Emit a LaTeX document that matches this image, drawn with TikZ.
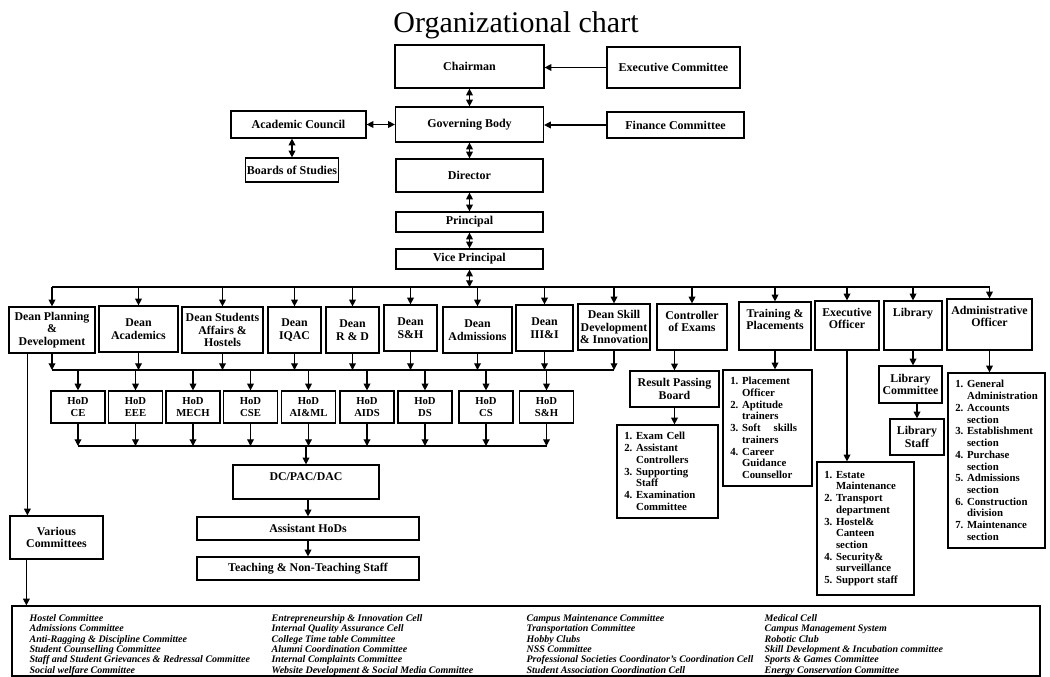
\documentclass[tikz,border=0pt]{standalone}
\usepackage{fontspec}
\setmainfont{Liberation Serif}
\usetikzlibrary{arrows,arrows.meta,positioning,calc}
\newcommand{\titleFnt}{\fontsize{22.5}{26}\selectfont}
\newcommand{\topFnt}{\bfseries\fontsize{9}{9.8}\selectfont}
\newcommand{\deanFnt}{\bfseries\fontsize{8.9}{9.3}\selectfont}
\newcommand{\hodFnt}{\bfseries\fontsize{8}{8.9}\selectfont}
\newcommand{\listFnt}{\bfseries\fontsize{8.1}{8.8}\selectfont}
\newcommand{\commFnt}{\bfseries\itshape\fontsize{7.5}{7.73}\selectfont}
\newcommand{\contLine}{\hphantom{1.~}}
\tikzset{
	box/.style={draw, line width=0.9pt, inner xsep=2pt, inner ysep=1pt, align=center},
	dean/.style={box, font=\deanFnt, minimum height=34.5pt},
	hod/.style={box, font=\hodFnt, minimum width=40.5pt, minimum height=24pt},
	toplabel/.style={anchor=north, yshift=-4.5pt, inner sep=1pt, align=center, font=\deanFnt},
	toptext/.style={label={[toplabel]north:#1}},
	listbox/.style={box, font=\listFnt, align=left, inner xsep=5.5pt, text width=#1},
	comm/.style={anchor=north west, inner sep=0pt, align=left, font=\commFnt}
}

\begin{document}
\begin{tikzpicture}[->,>={Triangle[length=5pt,width=5pt]},line width=0.9pt,
		x=0.75pt,y=-0.75pt]
	\useasboundingbox (0,0) rectangle (1050,677);
	\node[font=\titleFnt, anchor=base] (title) at (516,33) {Organizational chart};
	% governing levels
	\node[box, font=\topFnt, minimum width=111.75pt, minimum height=32.25pt] (chair) at (469.5,66.5) {Chairman};
	\node[box, font=\topFnt, minimum width=99.75pt, minimum height=30.75pt] (exec) at (673.5,67.5) {Executive Committee};
	\node[box, font=\topFnt, minimum width=101.25pt, minimum height=20.25pt] (acad) at (298.5,124.5) {Academic Council};
	\node[box, font=\topFnt, minimum width=111pt, minimum height=26.25pt] (gov) at (469.5,124.5) {Governing Body};
	\node[box, font=\topFnt, minimum width=102.75pt, minimum height=19.5pt] (fin) at (675.5,125) {Finance Committee};
	\node[box, font=\topFnt, inner xsep=1pt, minimum width=69pt, minimum height=18pt] (bos) at (292,170) {Boards of Studies};
	\node[box, font=\topFnt, minimum width=110.25pt, minimum height=24.75pt] (dir) at (469.5,175.5) {Director};
	\node[box, font=\topFnt, minimum width=110.25pt, minimum height=15pt] (prin) at (469.5,222) {Principal};
	\node[box, font=\topFnt, minimum width=110.25pt, minimum height=15pt] (vp) at (469.5,259) {Vice Principal};
	\path (exec.west) edge (exec.west -| chair.east);
	\path (fin.west) edge (fin.west -| gov.east);
	\path[<->] (acad.east) edge (acad.east -| gov.west);
	\path[<->] (bos.north |- acad.south) edge (bos.north);
	\path[<->] (chair) edge (gov);
	\path[<->] (gov) edge (dir);
	\path[<->] (dir) edge (prin);
	\path[<->] (prin) edge (vp);
	% deans and officers
	\node[dean, minimum width=64.5pt] (dplan) at (52,330) {Dean Planning\\\&\\Development};
	\node[dean, minimum width=59.25pt] (dacad) at (138.5,329) {Dean\\Academics};
	\node[dean, minimum width=60.75pt] (dstud) at (222.5,330) {Dean Students\\Affairs \&\\Hostels};
	\node[dean, minimum width=39.75pt] (diqac) at (294.5,330) {Dean\\IQAC};
	\node[dean, minimum width=39.75pt] (drd) at (352.5,330) {Dean\\R \& D};
	\node[dean, minimum width=39.75pt] (dsh) at (410.5,328) {Dean\\S\&H};
	\node[dean, minimum width=51.75pt] (dadm) at (477.5,330) {Dean\\Admissions};
	\node[dean, minimum width=42.75pt] (diii) at (544.5,328) {Dean\\III\&I};
	\node[dean, inner xsep=1pt, minimum width=54pt] (dskill) at (614,327) {Dean Skill\\Development\\\& Innovation};
	\node[dean, minimum width=52.5pt, toptext={Controller\\of Exams}] (ctrl) at (692,327) {};
	\node[dean, minimum width=54pt, minimum height=36pt, toptext={Training \&\\Placements}] (train) at (775,326) {};
	\node[dean, minimum width=48pt, minimum height=36.75pt, toptext={Executive\\Officer}] (eo) at (847,325.5) {};
	\node[dean, minimum width=43.5pt, minimum height=36.75pt, toptext={Library}] (lib) at (913,325.5) {};
	\node[dean, minimum width=63.75pt, minimum height=38.25pt, toptext={Administrative\\Officer}] (admo) at (989.5,324.5) {};
	\coordinate (deanbus) at (0,287);
	\coordinate (hodbus) at (0,370);
	\coordinate (staffbus) at (0,446);
	\path[<->] (vp.south) edge (vp.south |- deanbus);
	\draw[-] (dplan.north |- deanbus) -- (admo.north |- deanbus);
	\foreach \dn in {dplan,dacad,dstud,diqac,drd,dsh,dadm,diii,dskill,ctrl,train,eo,lib,admo}
		\path (\dn.north |- deanbus) edge (\dn.north);
	\foreach \dn in {dplan,dacad,dstud,diqac,drd,dsh,dadm,diii,dskill}
		\path (\dn.south) edge (\dn.south |- hodbus);
	\draw[-] (dplan.south |- hodbus) -- (dskill.south |- hodbus);
	% heads of departments
	\node[hod] (hce) at (78,407) {HoD\\CE};
	\node[hod] (heee) at (135.5,407) {HoD\\EEE};
	\node[hod] (hmech) at (193,407) {HoD\\MECH};
	\node[hod] (hcse) at (250.5,407) {HoD\\CSE};
	\node[hod] (haiml) at (308.5,407) {HoD\\AI\&ML};
	\node[hod] (haids) at (367,407) {HoD\\AIDS};
	\node[hod] (hds) at (425,407) {HoD\\DS};
	\node[hod] (hcs) at (486,407) {HoD\\CS};
	\node[hod] (hsh) at (546.5,407) {HoD\\S\&H};
	\foreach \hd in {hce,heee,hmech,hcse,haiml,haids,hds,hcs,hsh} {
		\path (\hd.north |- hodbus) edge (\hd.north);
		\path (\hd.south) edge (\hd.south |- staffbus);
	}
	\draw[-] (hce.south |- staffbus) -- (hsh.south |- staffbus);
	\node[box, font=\deanFnt, minimum width=109.5pt, minimum height=25.5pt, toptext={DC/PAC/DAC}] (dc) at (306,482) {};
	\node[box, font=\deanFnt, minimum width=166.5pt, minimum height=17.25pt] (ahod) at (308,528.5) {Assistant HoDs};
	\node[box, font=\deanFnt, minimum width=166.5pt, minimum height=17.25pt] (tnts) at (308,568.5) {Teaching \& Non-Teaching Staff};
	\path (dc.north |- staffbus) edge (dc.north);
	\path (ahod.north |- dc.south) edge (ahod.north);
	\path (ahod) edge (tnts);
	% committees
	\node[box, font=\deanFnt, minimum width=69.75pt, minimum height=32.25pt] (various) at (56.5,537.5) {Various\\Committees};
	\node[box, minimum width=771pt, minimum height=52.5pt] (clist) at (526,641) {};
	\coordinate (vline) at ([xshift=14.25pt]dplan.south west);
	\path (vline) edge (vline |- various.north);
	\coordinate (cline) at ([xshift=12.75pt]various.south west);
	\path (cline) edge (cline |- clist.north);
	\node[comm] (col1) at (29,614) {Hostel Committee\\Admissions Committee\\Anti-Ragging \& Discipline Committee\\Student Counselling Committee\\Staff and Student Grievances \& Redressal Committee\\Social welfare Committee};
	\node[comm] (col2) at (271,614) {Entrepreneurship \& Innovation Cell\\Internal Quality Assurance Cell\\College Time table Committee\\Alumni Coordination Committee\\Internal Complaints Committee\\Website Development \& Social Media Committee};
	\node[comm] (col3) at (526,614) {Campus Maintenance Committee\\Transportation Committee\\Hobby Clubs\\NSS Committee\\Professional Societies Coordinator's Coordination Cell\\Student Association Coordination Cell};
	\node[comm] (col4) at (764,614) {Medical Cell\\Campus Management System\\Robotic Club\\Skill Development \& Incubation committee\\Sports \& Games Committee\\Energy Conservation Committee};
	% exams, placements, offices
	\node[box, font=\deanFnt, minimum width=66.75pt, minimum height=27pt] (rpb) at (674.5,389) {Result Passing\\Board};
	\node[listbox=64.75pt, minimum height=69.75pt] (exams) at (667.5,471.5) {1.~Exam Cell\\2.~Assistant\\\contLine Controllers\\3.~Supporting\\\contLine Staff\\4.~Examination\\\contLine Committee};
	\node[listbox=55.75pt, minimum height=87pt] (tlist) at (767.5,428) {1.~Placement\\\contLine Officer\\2.~Aptitude\\\contLine trainers\\3.~Soft\hspace{1.2em}skills\\\contLine trainers\\4.~Career\\\contLine Guidance\\\contLine Counsellor};
	\node[listbox=61.75pt, minimum height=99.75pt] (estate) at (865.5,528.5) {1.~Estate\\\contLine Maintenance\\2.~Transport\\\contLine department\\3.~Hostel\&\\\contLine Canteen\\\contLine section\\4.~Security\&\\\contLine surveillance\\5.~Support staff};
	\node[box, font=\deanFnt, minimum width=47.25pt, minimum height=27.75pt] (libcom) at (910.5,384.5) {Library\\Committee};
	\node[box, font=\deanFnt, minimum width=40.5pt, minimum height=27pt] (libstaff) at (917,437) {Library\\Staff};
	\node[listbox=61.75pt, minimum height=131.25pt] (alist) at (996.5,460.5) {1.~General\\\contLine Administration\\2.~Accounts\\\contLine section\\3.~Establishment\\\contLine section\\4.~Purchase\\\contLine section\\5.~Admissions\\\contLine section\\6.~Construction\\\contLine division\\7.~Maintenance\\\contLine section};
	\path (rpb.north |- ctrl.south) edge (rpb.north);
	\path (rpb.south) edge (rpb.south |- exams.north);
	\path (train.south) edge (train.south |- tlist.north);
	\path (eo.south) edge (eo.south |- estate.north);
	\path (lib.south) edge (lib.south |- libcom.north);
	\path (libstaff.north |- libcom.south) edge (libstaff.north);
	\path (admo.south) edge (admo.south |- alist.north);
\end{tikzpicture}
\end{document}
